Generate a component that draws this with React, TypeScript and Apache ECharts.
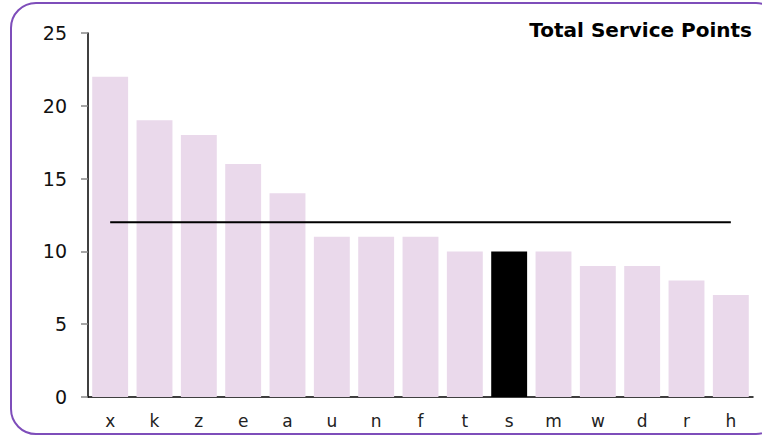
import React, { useEffect, useRef } from "react";
import * as echarts from "echarts";

const categories = ["x", "k", "z", "e", "a", "u", "n", "f", "t", "s", "m", "w", "d", "r", "h"];
const values = [22, 19, 18, 16, 14, 11, 11, 11, 10, 10, 10, 9, 9, 8, 7];
const highlighted = "s";
const average = 12;
const yTicks = { min: 0, max: 25, interval: 5 };
const titleText = "Total Service Points";

export default function App() {
  const ref = useRef<HTMLDivElement>(null);
  useEffect(() => {
    document.body.style.margin = "0";
    const chart = echarts.init(ref.current!, null, { renderer: "svg" });
    const font = "'DejaVu Sans', Verdana, sans-serif";
    chart.setOption({
      animation: false,
      textStyle: { fontFamily: font },
      title: {
        text: titleText,
        right: 10,
        top: 20,
        padding: 0,
        textStyle: { fontFamily: font, fontSize: 20, fontWeight: "bold", color: "#000" },
      },
      graphic: [
        {
          type: "rect",
          shape: { x: 11, y: 3, width: 770, height: 431, r: 25 },
          style: { fill: "none", stroke: "#7e4dba", lineWidth: 2 },
          silent: true,
        },
      ],
      grid: { left: 88, right: 9, top: 33, bottom: 39 },
      xAxis: {
        type: "category",
        data: categories,
        axisLine: { show: true, lineStyle: { color: "#000", width: 1.5 } },
        axisTick: { show: false },
        axisLabel: { fontSize: 17, color: "#222", margin: 15, fontFamily: font },
      },
      yAxis: {
        type: "value",
        min: yTicks.min,
        max: yTicks.max,
        interval: yTicks.interval,
        axisLine: { show: true, lineStyle: { color: "#000", width: 1.5 } },
        axisTick: { show: true, length: 7, lineStyle: { color: "#888", width: 1.5 } },
        axisLabel: { fontSize: 19, color: "#111", margin: 21, fontFamily: font },
        splitLine: { show: false },
      },
      series: [
        {
          type: "bar",
          data: values.map((v, i) => ({
            value: v,
            itemStyle: { color: categories[i] === highlighted ? "#000" : "#ead9eb" },
          })),
          barCategoryGap: "19%",
        },
        {
          type: "line",
          data: categories.map(() => average),
          symbol: "none",
          lineStyle: { color: "#000", width: 2 },
        },
      ],
    });
    return () => chart.dispose();
  }, []);
  return <div ref={ref} style={{ width: 762, height: 436 }} />;
}
